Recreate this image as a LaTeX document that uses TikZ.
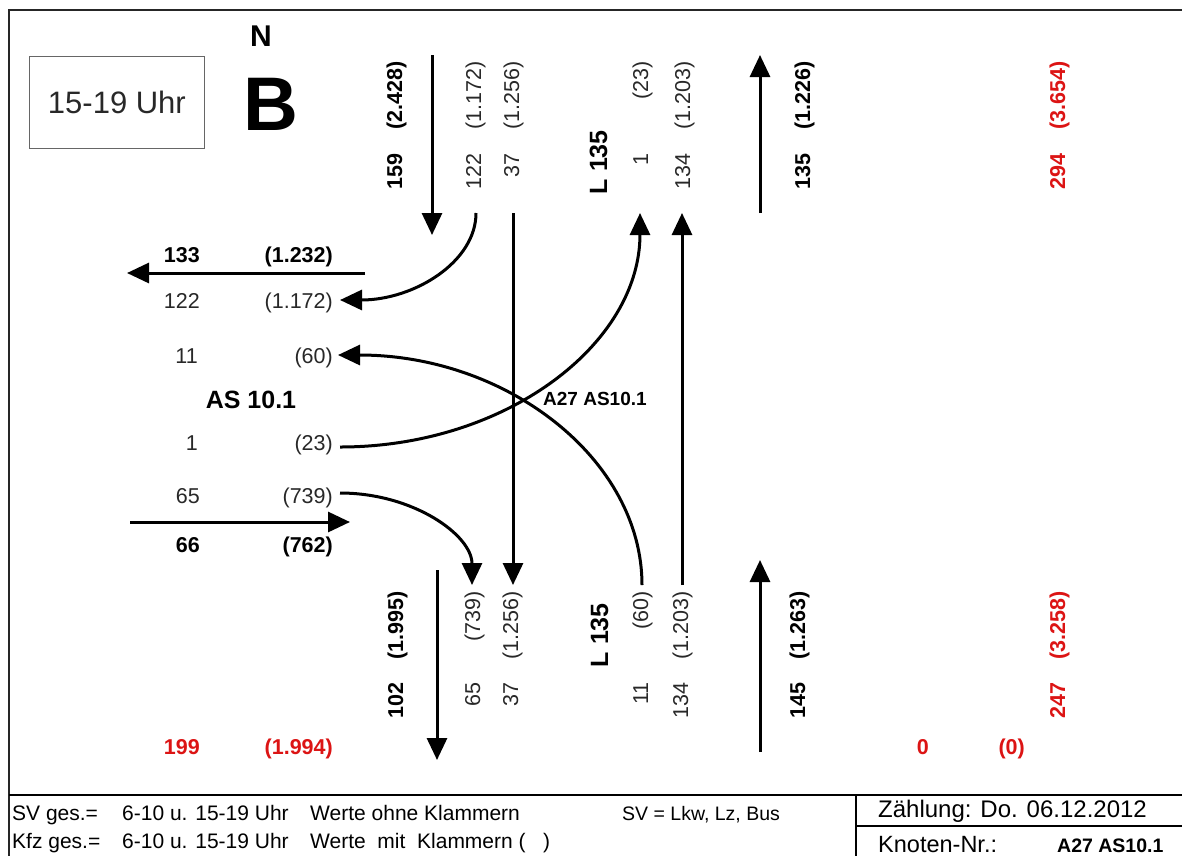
\documentclass[tikz,border=0pt]{standalone}
\usepackage{fontspec}
\setmainfont{Liberation Sans}
\usetikzlibrary{arrows.meta}
\definecolor{cred}{RGB}{220,20,20}
\definecolor{ctxt}{RGB}{40,40,40}
\tikzset{
  num/.style={font=\fontsize{21.5}{24}\selectfont, inner sep=0pt, text=ctxt},
  bnum/.style={font=\fontsize{21.5}{24}\selectfont\bfseries, inner sep=0pt},
  rnum/.style={font=\fontsize{21.5}{24}\selectfont\bfseries, inner sep=0pt, text=cred},
  rl/.style={rotate=90, anchor=base east},
  hl/.style={anchor=base east},
  lbl/.style={font=\fontsize{25}{28}\selectfont\bfseries, inner sep=0pt},
  foot/.style={font=\fontsize{21}{24}\selectfont, inner sep=0pt, anchor=base west},
  arr/.style={line width=3pt, -{Triangle[length=22pt,width=20pt]}},
  frame/.style={line width=2.8pt, draw=black!85},
}
\begin{document}
\begin{tikzpicture}[x=1pt,y=-1pt]
\useasboundingbox (0,0) rectangle (1182,855);
% frame
\draw[frame] (9,10) rectangle (1195,870);
\draw[line width=2pt] (9,795) -- (1195,795);
\draw[line width=2pt] (856,795) -- (856,870);
\draw[line width=2pt] (856,826) -- (1195,826);
% title
\node[draw=black!60, line width=0.8pt, minimum width=175pt, minimum height=92pt, anchor=north west, inner sep=0pt] (tbox) at (29,56) {};
\node[font=\fontsize{31}{34}\selectfont, text=ctxt] (time) at (tbox.center) {15-19 Uhr};
\node[font=\fontsize{30}{32}\selectfont\bfseries, inner sep=0pt] (north) at (261,36) {N};
\node[font=\fontsize{76}{80}\selectfont\bfseries, inner sep=0pt, anchor=base] (bee) at (271,130) {B};

% ---- top rotated labels
\node[bnum,rl] (t1a) at (402,61) {(2.428)};
\node[bnum,rl] (t1b) at (402,153) {159};
\node[num,rl] (t2a) at (481,61) {(1.172)};
\node[num,rl] (t2b) at (481,153) {122};
\node[num,rl] (t3a) at (519,61) {(1.256)};
\node[num,rl] (t3b) at (519,153) {37};
\node[lbl,rl] (tL) at (607,130) {L 135};
\node[num,rl] (t4a) at (648,61) {(23)};
\node[num,rl] (t4b) at (648,153) {1};
\node[num,rl] (t5a) at (690,61) {(1.203)};
\node[num,rl] (t5b) at (690,153) {134};
\node[bnum,rl] (t6a) at (810,61) {(1.226)};
\node[bnum,rl] (t6b) at (810,153) {135};
\node[rnum,rl] (t7a) at (1065,61) {(3.654)};
\node[rnum,rl] (t7b) at (1065,153) {294};

% ---- bottom rotated labels
\node[bnum,rl] (b1a) at (403,591) {(1.995)};
\node[bnum,rl] (b1b) at (403,682) {102};
\node[num,rl] (b2a) at (480,591) {(739)};
\node[num,rl] (b2b) at (480,682) {65};
\node[num,rl] (b3a) at (518,591) {(1.256)};
\node[num,rl] (b3b) at (518,682) {37};
\node[lbl,rl] (bL) at (608,603) {L 135};
\node[num,rl] (b4a) at (648,591) {(60)};
\node[num,rl] (b4b) at (648,682) {11};
\node[num,rl] (b5a) at (688,591) {(1.203)};
\node[num,rl] (b5b) at (688,682) {134};
\node[bnum,rl] (b6a) at (805,591) {(1.263)};
\node[bnum,rl] (b6b) at (805,682) {145};
\node[rnum,rl] (b7a) at (1065,591) {(3.258)};
\node[rnum,rl] (b7b) at (1065,682) {247};

% ---- left labels
\node[bnum,hl] (l1a) at (200,262) {133};
\node[bnum,hl] (l1b) at (333,262) {(1.232)};
\node[num,hl] (l2a) at (200,308) {122};
\node[num,hl] (l2b) at (333,308) {(1.172)};
\node[num,hl] (l3a) at (198,363) {11};
\node[num,hl] (l3b) at (333,363) {(60)};
\node[lbl,anchor=base] (as) at (251,408) {AS 10.1};
\node[num,hl] (l4a) at (198,450) {1};
\node[num,hl] (l4b) at (333,450) {(23)};
\node[num,hl] (l5a) at (200,503) {65};
\node[num,hl] (l5b) at (333,503) {(739)};
\node[bnum,hl] (l6a) at (200,552) {66};
\node[bnum,hl] (l6b) at (333,552) {(762)};

% ---- red bottom sums
\node[rnum,hl] (s1a) at (200,754) {199};
\node[rnum,hl] (s1b) at (333,754) {(1.994)};
\node[rnum,hl] (s2a) at (929,754) {0};
\node[rnum,hl] (s2b) at (1025,754) {(0)};

% ---- junction name
\node[font=\fontsize{19}{21}\selectfont\bfseries, inner sep=0pt, anchor=base west] (jn) at (543,405) {A27 AS10.1};

% ---- coordinates for connectors
\coordinate (nIn0) at (432,55);   \coordinate (nIn1) at (432,235);
\coordinate (nOut0) at (760,213); \coordinate (nOut1) at (760,55);
\coordinate (sOut0) at (437,570); \coordinate (sOut1) at (437,760);
\coordinate (sIn0) at (760,752);  \coordinate (sIn1) at (760,560);
\coordinate (wOut0) at (365,273); \coordinate (wOut1) at (127,273);
\coordinate (wIn0) at (130,522);  \coordinate (wIn1) at (350,522);

\coordinate (nR) at (476,213);   \coordinate (wR) at (340,300);
\coordinate (nS0) at (513,213);  \coordinate (sS1) at (513,585);
\coordinate (sL) at (642,585);   \coordinate (wL) at (338,355);
\coordinate (wLt) at (340,447);  \coordinate (nLt) at (640,213);
\coordinate (wRt) at (340,493);  \coordinate (sRt) at (472,585);
\coordinate (sS0) at (682,585);  \coordinate (nS1) at (682,213);

% main arrows
\draw[arr] (nIn0) -- (nIn1);
\draw[arr] (nOut0) -- (nOut1);
\draw[arr] (sOut0) -- (sOut1);
\draw[arr] (sIn0) -- (sIn1);
\draw[arr] (wOut0) -- (wOut1);
\draw[arr] (wIn0) -- (wIn1);

% turning movements
\draw[arr] (nR) .. controls (476,262) and (414,300) .. (wR);
\draw[arr] (nS0) -- (sS1);
\draw[arr] (sL) .. controls (642,460) and (508,355) .. (wL);
\draw[arr] (wLt) .. controls (506,447) and (640,344) .. (nLt);
\draw[arr] (wRt) .. controls (413,493) and (472,535) .. (sRt);
\draw[arr] (sS0) -- (nS1);

% ---- footer
\node[foot] (f1) at (12,820) {SV ges.=};
\node[foot] (f2) at (122,820) {6-10 u. 15-19 Uhr};
\node[foot] (f3) at (310,820) {Werte ohne Klammern};
\node[foot, font=\fontsize{19.5}{22}\selectfont] (f4) at (622,820) {SV = Lkw, Lz, Bus};
\node[foot] (g1) at (12,848) {Kfz ges.=};
\node[foot] (g2) at (122,848) {6-10 u. 15-19 Uhr};
\node[foot] (g3) at (310,848) {Werte\ \ mit\ \ Klammern (\ \ \ )};
\node[foot, font=\fontsize{24}{26}\selectfont] (z1) at (878,817) {Zählung: Do. 06.12.2012};
\node[foot, font=\fontsize{23.5}{26}\selectfont] (k1) at (878,852) {Knoten-Nr.:};
\node[foot, font=\fontsize{19.5}{22}\selectfont\bfseries] (k2) at (1057,852) {A27 AS10.1};
\end{tikzpicture}
\end{document}
